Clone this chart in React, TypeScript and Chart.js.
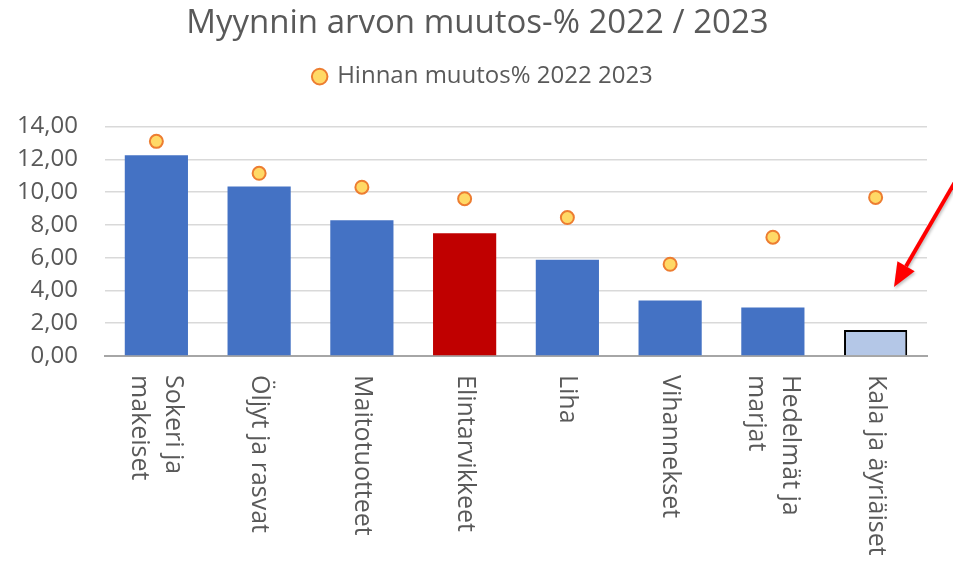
import React, { useEffect, useRef } from "react";
import { Chart, registerables, layouts } from "chart.js";

Chart.register(...registerables);

const categories: string[][] = [
  ["Sokeri ja", "makeiset"],
  ["Öljyt ja rasvat"],
  ["Maitotuotteet"],
  ["Elintarvikkeet"],
  ["Liha"],
  ["Vihannekset"],
  ["Hedelmät ja", "marjat"],
  ["Kala ja äyriäiset"],
];
const salesChange: number[] = [12.25, 10.35, 8.28, 7.49, 5.88, 3.38, 2.96, 1.58];
const priceChange: number[] = [13.1, 11.15, 10.3, 9.6, 8.45, 5.6, 7.25, 9.68];
const barColors: string[] = ["#4472c4", "#4472c4", "#4472c4", "#c00000", "#4472c4", "#4472c4", "#4472c4", "#b4c7e7"];
const barBorders: string[] = ["#4472c4", "#4472c4", "#4472c4", "#c00000", "#4472c4", "#4472c4", "#4472c4", "#000000"];
const barBorderWidths: number[] = [0, 0, 0, 0, 0, 0, 0, 2];
const yTicks = { min: 0, max: 14, step: 2 };

const FONT = "'Open Sans', sans-serif";
const TEXT = "#595959";

const spacerPlugin = {
  id: "legendSpacer",
  beforeInit(chart: any) {
    const box: any = {
      position: "top",
      weight: 0,
      fullSize: true,
      options: {},
      width: 0,
      height: 0,
      left: 0,
      right: 0,
      top: 0,
      bottom: 0,
      update(maxWidth: number) {
        this.width = maxWidth;
        this.height = 28;
      },
      isHorizontal() {
        return true;
      },
      draw() {},
    };
    layouts.addBox(chart, box);
  },
  afterLayout(chart: any) {
    if (chart.legend) {
      chart.legend.left += 13;
      chart.legend.right += 13;
    }
    if (chart.titleBlock) {
      chart.titleBlock.left += 7;
      chart.titleBlock.right += 7;
    }
  },
};

const xLabelPlugin = {
  id: "xLabelPlugin",
  afterDraw(chart: any) {
    const ctx = chart.ctx;
    const xs = chart.scales.x;
    const top = chart.chartArea.bottom + 19;
    ctx.save();
    ctx.fillStyle = TEXT;
    ctx.font = `25px ${FONT}`;
    ctx.textAlign = "left";
    ctx.textBaseline = "middle";
    const lh = 34;
    categories.forEach((lines, i) => {
      const x = xs.getPixelForValue(i);
      ctx.save();
      ctx.translate(x, top);
      ctx.rotate(Math.PI / 2);
      const n = lines.length;
      lines.forEach((ln, j) => {
        ctx.fillText(ln, 0, (j - (n - 1) / 2) * lh);
      });
      ctx.restore();
    });
    ctx.restore();
  },
};

const arrowPlugin = {
  id: "arrowPlugin",
  afterDraw(chart: any) {
    const ctx = chart.ctx;
    const x0 = 966, y0 = 163, x1 = 894, y1 = 287;
    const ang = Math.atan2(y1 - y0, x1 - x0);
    const headLen = 24, headW = 10;
    const bx = x1 - headLen * Math.cos(ang);
    const by = y1 - headLen * Math.sin(ang);
    ctx.save();
    ctx.shadowColor = "rgba(0,0,0,0.25)";
    ctx.shadowBlur = 3;
    ctx.shadowOffsetX = 1;
    ctx.shadowOffsetY = 2;
    ctx.strokeStyle = "#ff0000";
    ctx.fillStyle = "#ff0000";
    ctx.lineWidth = 4;
    ctx.beginPath();
    ctx.moveTo(x0, y0);
    ctx.lineTo(bx, by);
    ctx.stroke();
    ctx.beginPath();
    ctx.moveTo(x1, y1);
    ctx.lineTo(bx + headW * Math.sin(ang), by - headW * Math.cos(ang));
    ctx.lineTo(bx - headW * Math.sin(ang), by + headW * Math.cos(ang));
    ctx.closePath();
    ctx.fill();
    ctx.restore();
  },
};

export default function App() {
  const ref = useRef<HTMLCanvasElement | null>(null);
  useEffect(() => {
    if (!ref.current) return;
    const chart = new Chart(ref.current, {
      type: "bar",
      data: {
        labels: categories.map((c) => c.join(" ")),
        datasets: [
          {
            type: "line",
            label: "Hinnan muutos% 2022 2023",
            data: priceChange,
            showLine: false,
            pointRadius: 6.5,
            pointBackgroundColor: "#ffd966",
            pointBorderColor: "#ed7d31",
            backgroundColor: "#ffd966",
            borderColor: "#ed7d31",
            pointBorderWidth: 2,
            borderWidth: 2,
            order: 0,
          } as any,
          {
            type: "bar",
            label: "Myynnin arvon muutos",
            data: salesChange,
            backgroundColor: barColors,
            borderColor: barBorders,
            borderWidth: barBorderWidths,
            categoryPercentage: 1,
            barPercentage: 0.615,
            order: 1,
          } as any,
        ],
      },
      options: {
        animation: false,
        responsive: false,
        maintainAspectRatio: false,
        layout: { padding: { left: 14, right: 26, top: 0, bottom: 197 } },
        plugins: {
          title: {
            display: true,
            text: "Myynnin arvon muutos-% 2022 / 2023",
            color: TEXT,
            font: { family: FONT, size: 33, weight: "normal" },
            padding: { top: 4, bottom: -2 },
          },
          legend: {
            display: true,
            labels: {
              filter: (item: any) => item.datasetIndex === 0,
              usePointStyle: true,
              pointStyle: "circle",
              boxWidth: 11,
              boxHeight: 11,
              padding: 23,
              color: TEXT,
              font: { family: FONT, size: 24 },
            },
          },
          tooltip: { enabled: false },
        },
        scales: {
          x: {
            ticks: { display: false },
            grid: { display: false },
            border: { display: true, color: "#a6a6a6", width: 2 },
          },
          y: {
            min: yTicks.min,
            max: yTicks.max,
            afterFit: (s: any) => {
              s.width = 91;
            },
            ticks: {
              stepSize: yTicks.step,
              color: TEXT,
              font: { family: FONT, size: 24 },
              padding: 27,
              callback: (v: any) => Number(v).toFixed(2).replace(".", ","),
            },
            grid: { color: "#d9d9d9", lineWidth: 1.5, drawTicks: false },
            border: { display: false },
          },
        },
      },
      plugins: [spacerPlugin, xLabelPlugin, arrowPlugin],
    });
    return () => chart.destroy();
  }, []);
  return (
    <div style={{ position: "fixed", left: 0, top: 0, width: 953, height: 561, background: "#fff" }}>
      <canvas ref={ref} width={953} height={561} style={{ width: 953, height: 561 }} />
    </div>
  );
}
